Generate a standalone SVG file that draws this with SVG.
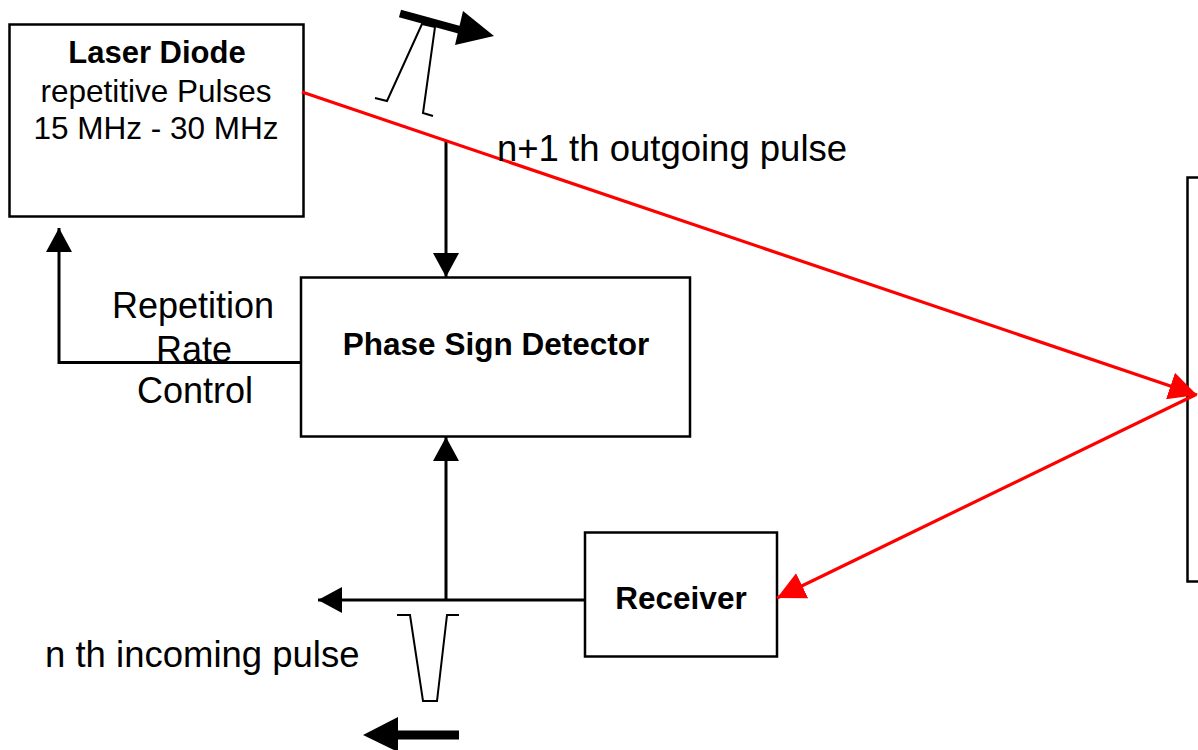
<svg xmlns="http://www.w3.org/2000/svg" width="1198" height="750" viewBox="0 0 1198 750">
<style>
.box{fill:#fff;stroke:#000;stroke-width:2.5}
.ln{fill:none;stroke:#000;stroke-width:3}
.red{fill:none;stroke:#ff0000;stroke-width:3.2}
.pulse{fill:none;stroke:#000;stroke-width:2}
.t{font-family:"Liberation Sans",Arial,sans-serif;fill:#000}
.b{font-weight:bold}
</style>
<defs>
<marker id="ah" viewBox="0 0 24 26" refX="24" refY="13" markerWidth="24" markerHeight="26" markerUnits="userSpaceOnUse" orient="auto">
<path d="M0,0 L24,13 L0,26 Z" fill="#000"/>
</marker>
<marker id="rh" viewBox="0 0 28 28" refX="28" refY="14" markerWidth="28" markerHeight="28" markerUnits="userSpaceOnUse" orient="auto">
<path d="M0,0 L28,14 L0,28 Z" fill="#ff0000"/>
</marker>
</defs>
<rect width="1198" height="750" fill="#fff"/>
<g id="laser">
<rect class="box" x="9.5" y="24.5" width="294" height="192"/>
<text class="t b" x="157" y="63" font-size="31" text-anchor="middle">Laser Diode</text>
<text class="t" x="156" y="102" font-size="31.5" text-anchor="middle">repetitive Pulses</text>
<text class="t" x="156" y="139" font-size="31.5" text-anchor="middle">15 MHz - 30 MHz</text>
</g>
<g id="phase">
<rect class="box" x="301" y="277.5" width="389" height="159"/>
<text class="t b" x="496" y="355" font-size="31.5" text-anchor="middle">Phase Sign Detector</text>
</g>
<g id="receiver">
<rect class="box" x="585" y="532.5" width="192" height="124"/>
<text class="t b" x="681" y="609" font-size="31.5" text-anchor="middle">Receiver</text>
</g>
<g id="target">
<rect class="box" x="1187.5" y="177.5" width="30" height="404"/>
</g>
<g id="connectors">
<line class="ln" x1="446" y1="140" x2="446" y2="277" marker-end="url(#ah)"/>
<polyline class="ln" points="301,362.5 59,362.5 59,228" marker-end="url(#ah)"/>
<line class="ln" x1="585" y1="600" x2="318" y2="600" marker-end="url(#ah)"/>
<line class="ln" x1="446" y1="600" x2="446" y2="437" marker-end="url(#ah)"/>
<line class="red" x1="302" y1="92" x2="1197" y2="395" marker-end="url(#rh)"/>
<line class="red" x1="1195" y1="395" x2="777" y2="598" marker-end="url(#rh)"/>
</g>
<g id="labels">
<text class="t" x="193" y="318" font-size="36" text-anchor="middle">Repetition</text>
<text class="t" x="194" y="362" font-size="36" text-anchor="middle">Rate</text>
<text class="t" x="195" y="403" font-size="36" text-anchor="middle">Control</text>
<text class="t" x="497" y="161" font-size="36.5">n+1 th outgoing pulse</text>
<text class="t" x="45" y="667" font-size="36.5">n th incoming pulse</text>
</g>
<g id="pulses">
<polyline class="pulse" points="375,98 387,101 422,24 435,27 423,113 433,116"/>
<line x1="400" y1="13.5" x2="462" y2="30.5" stroke="#000" stroke-width="8"/>
<polygon points="463,11 494,36 455,45" fill="#000"/>
<polyline class="pulse" points="397,615 410,615 423,701 437,701 447,615 459,615"/>
<line x1="396" y1="735" x2="459" y2="735" stroke="#000" stroke-width="9"/>
<polygon points="363,735 398,717 398,752" fill="#000"/>
</g>
</svg>
